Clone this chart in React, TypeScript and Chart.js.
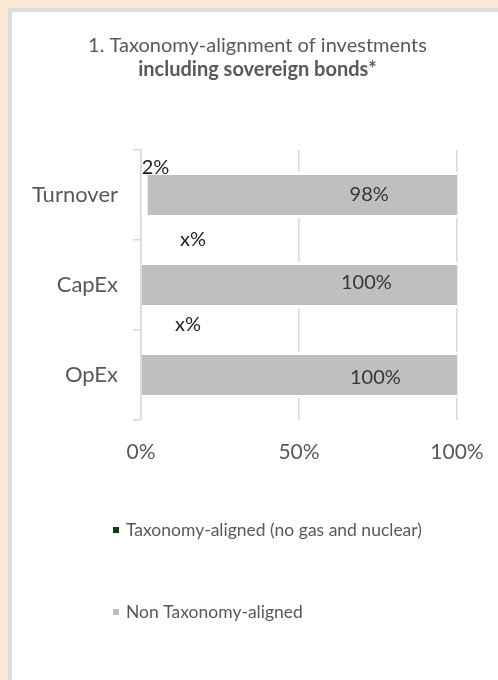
import { useEffect, useRef } from "react";
import { Chart, registerables } from "chart.js";

Chart.register(...registerables);

// ---- data ----
const CATEGORIES = ["Turnover", "CapEx", "OpEx"];
const ALIGNED_VALUES = [2, 0, 0];
const ALIGNED_LABELS = ["2%", "x%", "x%"];
const NON_ALIGNED_VALUES = [98, 100, 100];
const X_TICKS = [0, 50, 100];
const SERIES_NAMES = ["Taxonomy-aligned (no gas and nuclear)", "Non Taxonomy-aligned"];
const TITLE = "1. Taxonomy-alignment of investments";
const SUBTITLE = "including sovereign bonds*";

// ---- styling ----
const FONT = "Lato, 'Open Sans', sans-serif";
const GREEN = "#0b3d12";
const GRAY = "#bfbfbf";
const TEXT = "#595959";
const GRID = "#d9d9d9";
// manual label shifts (px) relative to the centre of each bar segment
const LABEL_SHIFT = [
  [[11, -27], [52, -45], [47, -50]],
  [[67, 0], [67, -2], [76, 3]],
];

const labelPlugin = {
  id: "manualLabels",
  afterDatasetsDraw(chart: any) {
    const ctx = chart.ctx;
    ctx.save();
    ctx.font = `20px ${FONT}`;
    ctx.textAlign = "center";
    ctx.textBaseline = "middle";
    chart.data.datasets.forEach((ds: any, i: number) => {
      const meta = chart.getDatasetMeta(i);
      meta.data.forEach((el: any, j: number) => {
        const { x, y, base } = el.getProps(["x", "y", "base"], true);
        const text = i === 0 ? ALIGNED_LABELS[j] : `${NON_ALIGNED_VALUES[j]}%`;
        const [dx, dy] = LABEL_SHIFT[i][j];
        ctx.fillStyle = i === 0 ? "#1f1f1f" : "#363636";
        ctx.fillText(text, (x + base) / 2 + dx, y + dy);
      });
    });
    ctx.restore();
  },
};

const legendPlugin = {
  id: "stackedLegend",
  afterDraw(chart: any) {
    const ctx = chart.ctx;
    const area = chart.chartArea;
    const rows = [area.bottom + 110, area.bottom + 192];
    ctx.save();
    ctx.font = `17.5px ${FONT}`;
    ctx.textAlign = "left";
    ctx.textBaseline = "middle";
    chart.data.datasets.forEach((ds: any, i: number) => {
      const y = rows[i];
      ctx.fillStyle = ds.legendColor;
      ctx.fillRect(area.left - 28, y - 3, 6, 6);
      ctx.fillStyle = TEXT;
      ctx.fillText(ds.label, area.left - 15, y);
    });
    ctx.restore();
  },
};

export default function App() {
  const canvasRef = useRef<HTMLCanvasElement | null>(null);

  useEffect(() => {
    if (!canvasRef.current) return;
    const chart = new Chart(canvasRef.current, {
      type: "bar",
      data: {
        labels: CATEGORIES,
        datasets: [
          {
            label: SERIES_NAMES[0],
            data: ALIGNED_VALUES,
            backgroundColor: "#ffffff",
            borderWidth: 0,
            legendColor: GREEN,
            barPercentage: 0.51,
            categoryPercentage: 1,
          } as any,
          {
            label: SERIES_NAMES[1],
            data: NON_ALIGNED_VALUES,
            backgroundColor: GRAY,
            borderColor: "#ffffff",
            borderWidth: { top: 3, bottom: 3, left: 0, right: 0 },
            borderSkipped: false,
            legendColor: GRAY,
            barPercentage: 0.51,
            categoryPercentage: 1,
          } as any,
        ],
      },
      options: {
        indexAxis: "y",
        responsive: false,
        animation: false,
        layout: { padding: { left: 17, right: 0, top: 0, bottom: 180 } },
        font: { family: FONT },
        scales: {
          x: {
            stacked: true,
            min: 0,
            max: 100,
            afterBuildTicks: (scale: any) => {
              scale.ticks = X_TICKS.map((v) => ({ value: v }));
            },
            afterFit: (scale: any) => {
              scale.height = 80;
            },
            grid: { color: GRID, lineWidth: 1.5, drawTicks: true, tickLength: 18, tickColor: "rgba(0,0,0,0)" },
            border: { display: false },
            ticks: {
              color: TEXT,
              font: { family: FONT, size: 21 },
              padding: 2,
              callback: (v: any) => `${v}%`,
            },
          },
          y: {
            stacked: true,
            afterFit: (scale: any) => {
              scale.width = 124;
            },
            grid: { color: GRID, lineWidth: 1.5, drawOnChartArea: false, drawTicks: true, tickLength: 8 },
            border: { display: true, color: GRID, width: 1.5 },
            ticks: {
              color: TEXT,
              font: { family: FONT, size: 22 },
              padding: 15,
            },
          },
          yRight: {
            type: "category",
            position: "right",
            display: true,
            grid: { display: false, drawTicks: false },
            border: { display: false },
            ticks: { display: false },
            afterFit: (scale: any) => {
              scale.width = 41;
            },
          },
        },
        plugins: {
          legend: { display: false },
          tooltip: { enabled: false },
          title: {
            display: true,
            text: TITLE,
            color: TEXT,
            font: { family: FONT, size: 20, weight: "normal", lineHeight: 1.2 },
            padding: { top: 34, bottom: 0 },
          },
          subtitle: {
            display: true,
            text: SUBTITLE,
            color: TEXT,
            font: { family: FONT, size: 20, weight: "bold", lineHeight: 1.2 },
            padding: { top: 0, bottom: 68 },
          },
        },
      } as any,
      plugins: [labelPlugin, legendPlugin],
    });
    return () => chart.destroy();
  }, []);

  return (
    <div style={{ position: "fixed", left: 0, top: 0, width: 498, height: 680, background: "#fae9d7", overflow: "hidden" }}>
      <div
        style={{
          position: "absolute",
          left: 8,
          top: 8,
          width: 490,
          height: 672,
          boxSizing: "border-box",
          background: "#ffffff",
          borderLeft: "4px solid #dcdcdc",
          borderTop: "4px solid #dcdcdc",
        }}
      />
      <canvas ref={canvasRef} width={498} height={680} style={{ position: "absolute", left: 0, top: 0 }} />
    </div>
  );
}
